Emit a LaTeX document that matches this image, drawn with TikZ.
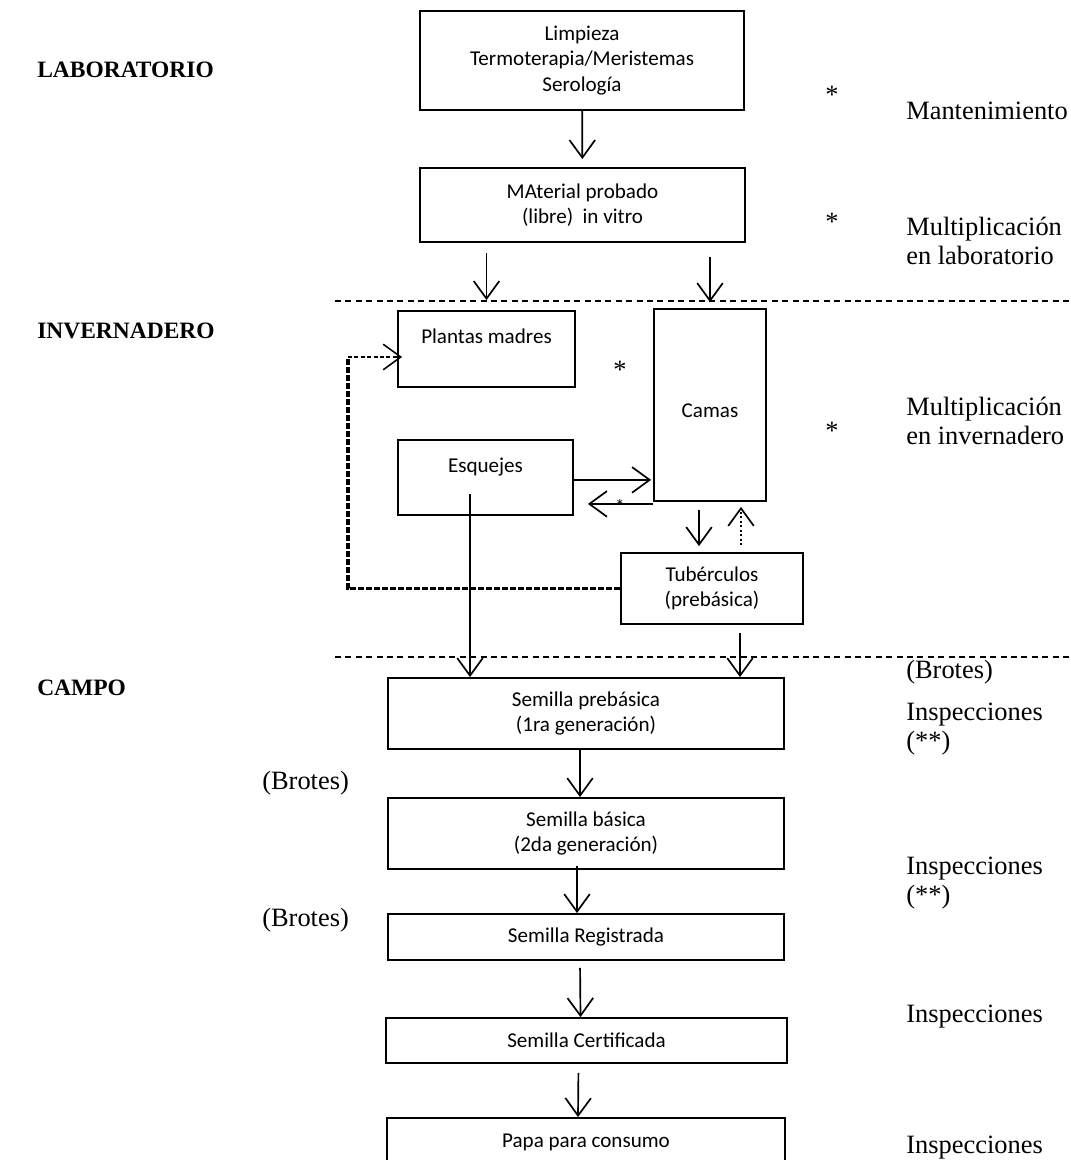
\documentclass[tikz,border=0pt]{standalone}
\usepackage{fontspec}
\setmainfont{Liberation Serif}
\newfontfamily\boxfont{Carlito}
\usetikzlibrary{arrows.meta}

\begin{document}
\begin{tikzpicture}[x = 0.25mm, y = -0.25mm]
	\tikzstyle{boxStyle} = [draw, line width = 1.3pt, align = center, inner sep = 0pt, font = \boxfont\fontsize{15}{18}\selectfont]
	\tikzstyle{sideStyle} = [anchor = west, align = left, inner sep = 0pt, font = \fontsize{18.8}{21}\selectfont]
	\tikzstyle{zoneStyle} = [anchor = west, inner sep = 0pt, font = \bfseries\fontsize{16.7}{19}\selectfont]
	\tikzstyle{starStyle} = [inner sep = 0pt, font = \fontsize{18.8}{21}\selectfont]
	\tikzstyle{arrowStyle} = [line width = 1.2pt, -{Straight Barb[length = 4.4mm, width = 6.4mm]}]
	\tikzstyle{sepStyle} = [line width = 0.9pt, dash pattern = on 1.5mm off 1.1mm]
	\tikzstyle{backStyle} = [line width = 2.8pt, dash pattern = on 1.5mm off 0.5mm]
	\clip (0, 0) rectangle (1071, 1160);
	\node[zoneStyle] (lab) at (37, 70) {LABORATORIO};
	\node[zoneStyle] (inv) at (37, 331) {INVERNADERO};
	\node[zoneStyle] (cam) at (37, 688) {CAMPO};
	\node[boxStyle, minimum width = 81mm, minimum height = 24.75mm] (limp) at (582, 60.5) {Limpieza\\Termoterapia/Meristemas\\Serología};
	\node[boxStyle, minimum width = 81.25mm, minimum height = 18.5mm] (mat) at (582.5, 205) {MAterial probado\\(libre)\ \ in vitro};
	\node[boxStyle, minimum width = 44.25mm, minimum height = 19mm] (pm) at (486.5, 349) {Plantas madres\\~};
	\node[boxStyle, minimum width = 43.75mm, minimum height = 18.75mm] (esq) at (485.5, 477.5) {Esquejes\\~};
	\node[boxStyle, minimum width = 28mm, minimum height = 48mm] (camas) at (710, 405) {~\\Camas};
	\node[boxStyle, minimum width = 45.5mm, minimum height = 17.75mm] (tub) at (712, 588.5) {Tubérculos\\(prebásica)};
	\node[boxStyle, minimum width = 99mm, minimum height = 17.75mm] (pre) at (586, 713.5) {Semilla prebásica\\(1ra generación)};
	\node[boxStyle, minimum width = 99mm, minimum height = 17.75mm] (bas) at (586, 833.5) {Semilla básica\\(2da generación)};
	\node[boxStyle, minimum width = 99mm, minimum height = 11.5mm] (reg) at (586, 937) {Semilla Registrada};
	\node[boxStyle, minimum width = 100.25mm, minimum height = 11.25mm] (cert) at (586.5, 1040.5) {Semilla Certificada};
	\node[boxStyle, minimum width = 99.5mm, minimum height = 12mm] (papa) at (586, 1142) {Papa para consumo};
	\node[starStyle] (s1) at (832, 95) {*};
	\node[starStyle] (s2) at (832, 222) {*};
	\node[starStyle] (s3) at (832, 431) {*};
	\node[starStyle] (s4) at (620, 370) {*};
	\node[sideStyle] (mant) at (906, 111) {Mantenimiento};
	\node[sideStyle] (mlab) at (906, 241) {Multiplicación\\en laboratorio};
	\node[sideStyle] (minv) at (906, 421) {Multiplicación\\en invernadero};
	\node[sideStyle] (br1) at (906, 672) {(Brotes)};
	\node[sideStyle] (ins1) at (906, 729) {Inspecciones\\(**)};
	\node[sideStyle] (ins2) at (906, 883) {Inspecciones\\(**)};
	\node[sideStyle] (ins3) at (906, 1017) {Inspecciones};
	\node[sideStyle] (ins4) at (906, 1148) {Inspecciones};
	\node[sideStyle] (br2) at (262, 783) {(Brotes)};
	\node[sideStyle] (br3) at (262, 920) {(Brotes)};
	\coordinate (esqout) at (470, 494);
	\coordinate (bend) at (348, 357);
	\draw[sepStyle] (335, 301) -- (1071, 301);
	\draw[sepStyle] (335, 657) -- (1071, 657);
	\draw[arrowStyle, shorten >= 2mm] (limp) -- (mat);
	\draw[arrowStyle, shorten <= 2.5mm, shorten >= 2.5mm] (mat.south -| pm.north) -- (pm.north);
	\draw[arrowStyle, shorten <= 3.5mm, shorten >= 1.5mm] (mat.south -| camas.north) -- (camas.north);
	\draw[arrowStyle, shorten >= 0.5mm] ([yshift = -0.6mm]esq.east) -- ([yshift = -0.6mm]esq.east -| camas.west);
	\draw[arrowStyle, shorten >= 3.5mm] ([yshift = -0.5mm]camas.south west) -- ([yshift = -0.5mm]camas.south west -| esq.east);
	\node[starStyle, font = \boxfont\fontsize{13}{15}\selectfont] (s5) at (620, 506) {*};
	\draw[arrowStyle, shorten <= 2mm, shorten >= 1.5mm] ([xshift = -2.75mm]camas.south) -- ([xshift = -2.75mm]camas.south |- tub.north);
	\draw[arrowStyle, dotted, shorten <= 1.75mm, shorten >= 1.25mm] ([xshift = 7.75mm]camas.south |- tub.north) -- ([xshift = 7.75mm]camas.south);
	\draw[backStyle] (tub.west) -| (bend);
	\draw[line width = 1.1pt, dash pattern = on 1mm off 0.6mm, -{Straight Barb[length = 4.4mm, width = 6.4mm]}, shorten >= -1.25mm] (bend) -- (bend -| pm.west);
	\draw[arrowStyle] (esqout) -- (esqout |- pre.north);
	\draw[arrowStyle, shorten <= 2mm] ([xshift = 7mm]tub.south) -- ([xshift = 7mm]tub.south |- pre.north);
	\draw[arrowStyle] ([xshift = -1.5mm]pre.south) -- ([xshift = -1.5mm]bas.north);
	\draw[arrowStyle, shorten <= -1mm] ([xshift = -2.25mm]bas.south) -- ([xshift = -2.25mm]reg.north);
	\draw[arrowStyle, shorten <= 1.75mm] ([xshift = -1.5mm]reg.south) -- ([xshift = -1.5mm]cert.north);
	\draw[arrowStyle, shorten <= 2.25mm] ([xshift = -2mm]cert.south) -- ([xshift = -2mm]papa.north);
\end{tikzpicture}
\end{document}
